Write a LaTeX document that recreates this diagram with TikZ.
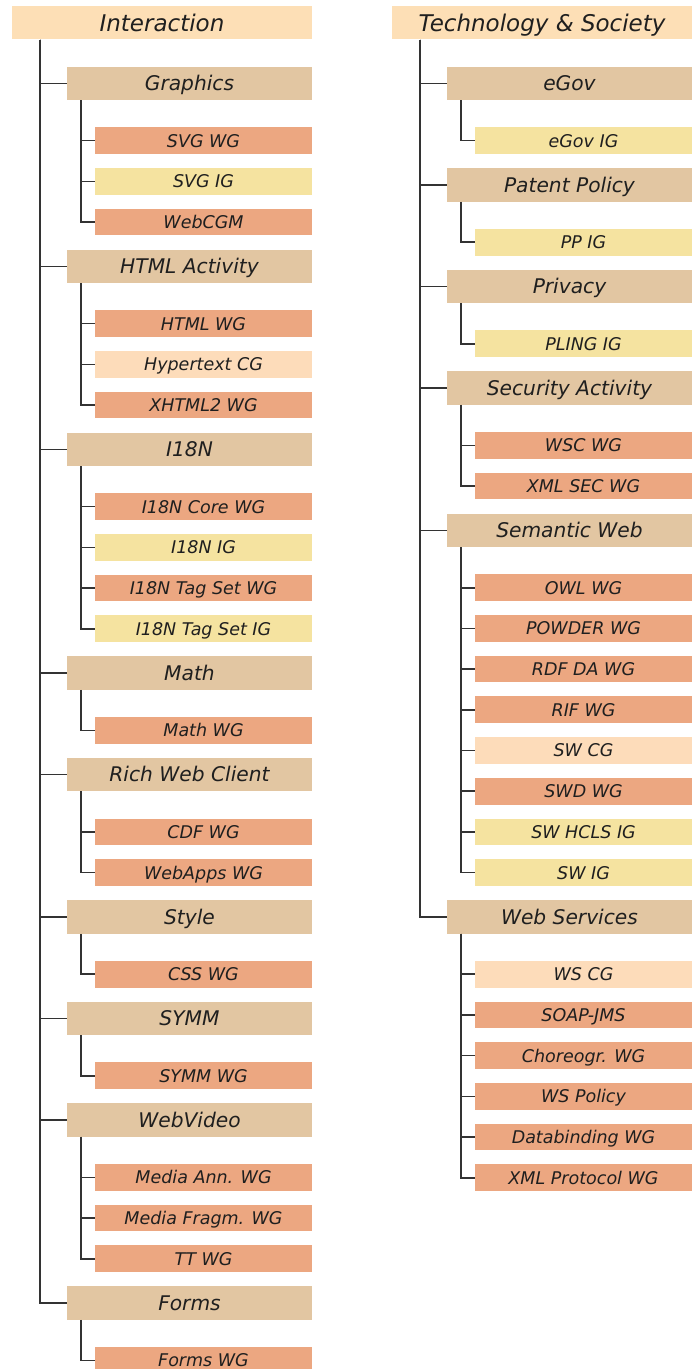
\documentclass[tikz,border=0pt]{standalone}
\usepackage{fontspec}
\setmainfont{DejaVu Sans}
\usepackage{tikz}
\usetikzlibrary{positioning}

\definecolor{headc}{HTML}{FDDFB6}
\definecolor{grpc}{HTML}{E2C6A2}
\definecolor{wgc}{HTML}{ECA781}
\definecolor{igc}{HTML}{F5E3A0}
\definecolor{cgc}{HTML}{FDDCBA}
\definecolor{linec}{HTML}{333333}

\begin{document}
\begin{tikzpicture}[node distance={40.7pt},
    head/.style={fill=headc, inner sep=0pt, minimum width=300pt, minimum height=33.3pt, text height=16.8pt, text depth=0pt, text=black!88, font=\fontsize{23}{26}\selectfont\itshape},
    grp/.style={fill=grpc, inner sep=0pt, minimum width=245pt, minimum height=33.3pt, text height=14.7pt, text depth=0pt, text=black!88, font=\fontsize{20.2}{24}\selectfont\itshape},
    wg/.style={fill=wgc, inner sep=0pt, minimum width=217pt, minimum height=26.7pt, text height=12.8pt, text depth=0pt, text=black!88, font=\fontsize{17.5}{20}\selectfont\itshape},
    ig/.style={wg, fill=igc},
    cg/.style={wg, fill=cgc},
    conn/.style={draw=linec, line width=1.6pt}]
    \fill[white] (0,0) rectangle (698pt,-1369pt);
    \useasboundingbox (0,0) rectangle (698pt,-1369pt);

    % Interaction
    \node[head] (l0) at (162pt,-22.7pt) {Interaction};

    \node[grp] (l1) [below of=l0, xshift=27.5pt, yshift=-19.9pt] {Graphics};
    \node[wg] (l2) [below of=l1, xshift=14pt, yshift=-16.6pt] {SVG WG};
    \node[ig] (l3) [below of=l2] {SVG IG};
    \node[wg] (l4) [below of=l3] {WebCGM};

    \node[grp] (l5) [below of=l4, xshift=-14pt, yshift=-3.6pt] {HTML Activity};
    \node[wg] (l6) [below of=l5, xshift=14pt, yshift=-16.6pt] {HTML WG};
    \node[cg] (l7) [below of=l6] {Hypertext CG};
    \node[wg] (l8) [below of=l7] {XHTML2 WG};

    \node[grp] (l9) [below of=l8, xshift=-14pt, yshift=-3.6pt] {I18N};
    \node[wg] (l10) [below of=l9, xshift=14pt, yshift=-16.6pt] {I18N Core WG};
    \node[ig] (l11) [below of=l10] {I18N IG};
    \node[wg] (l12) [below of=l11] {I18N Tag Set WG};
    \node[ig] (l13) [below of=l12] {I18N Tag Set IG};

    \node[grp] (l14) [below of=l13, xshift=-14pt, yshift=-3.6pt] {Math};
    \node[wg] (l15) [below of=l14, xshift=14pt, yshift=-16.6pt] {Math WG};

    \node[grp] (l16) [below of=l15, xshift=-14pt, yshift=-3.6pt] {Rich Web Client};
    \node[wg] (l17) [below of=l16, xshift=14pt, yshift=-16.6pt] {CDF WG};
    \node[wg] (l18) [below of=l17] {WebApps WG};

    \node[grp] (l19) [below of=l18, xshift=-14pt, yshift=-3.6pt] {Style};
    \node[wg] (l20) [below of=l19, xshift=14pt, yshift=-16.6pt] {CSS WG};

    \node[grp] (l21) [below of=l20, xshift=-14pt, yshift=-3.6pt] {SYMM};
    \node[wg] (l22) [below of=l21, xshift=14pt, yshift=-16.6pt] {SYMM WG};

    \node[grp] (l23) [below of=l22, xshift=-14pt, yshift=-3.6pt] {WebVideo};
    \node[wg] (l24) [below of=l23, xshift=14pt, yshift=-16.6pt] {Media Ann. WG};
    \node[wg] (l25) [below of=l24] {Media Fragm. WG};
    \node[wg] (l26) [below of=l25] {TT WG};

    \node[grp] (l27) [below of=l26, xshift=-14pt, yshift=-3.6pt] {Forms};
    \node[wg] (l28) [below of=l27, xshift=14pt, yshift=-16.6pt] {Forms WG};

    % Technology & Society
    \node[head] (r0) at (542pt,-22.7pt) {Technology \& Society};

    \node[grp] (r1) [below of=r0, xshift=27.5pt, yshift=-19.9pt] {eGov};
    \node[ig] (r2) [below of=r1, xshift=14pt, yshift=-16.6pt] {eGov IG};

    \node[grp] (r3) [below of=r2, xshift=-14pt, yshift=-3.6pt] {Patent Policy};
    \node[ig] (r4) [below of=r3, xshift=14pt, yshift=-16.6pt] {PP IG};

    \node[grp] (r5) [below of=r4, xshift=-14pt, yshift=-3.6pt] {Privacy};
    \node[ig] (r6) [below of=r5, xshift=14pt, yshift=-16.6pt] {PLING IG};

    \node[grp] (r7) [below of=r6, xshift=-14pt, yshift=-3.6pt] {Security Activity};
    \node[wg] (r8) [below of=r7, xshift=14pt, yshift=-16.6pt] {WSC WG};
    \node[wg] (r9) [below of=r8] {XML SEC WG};

    \node[grp] (r10) [below of=r9, xshift=-14pt, yshift=-3.6pt] {Semantic Web};
    \node[wg] (r11) [below of=r10, xshift=14pt, yshift=-16.6pt] {OWL WG};
    \node[wg] (r12) [below of=r11] {POWDER WG};
    \node[wg] (r13) [below of=r12] {RDF DA WG};
    \node[wg] (r14) [below of=r13] {RIF WG};
    \node[cg] (r15) [below of=r14] {SW CG};
    \node[wg] (r16) [below of=r15] {SWD WG};
    \node[ig] (r17) [below of=r16] {SW HCLS IG};
    \node[ig] (r18) [below of=r17] {SW IG};

    \node[grp] (r19) [below of=r18, xshift=-14pt, yshift=-3.6pt] {Web Services};
    \node[cg] (r20) [below of=r19, xshift=14pt, yshift=-16.6pt] {WS CG};
    \node[wg] (r21) [below of=r20] {SOAP-JMS};
    \node[wg] (r22) [below of=r21] {Choreogr. WG};
    \node[wg] (r23) [below of=r22] {WS Policy};
    \node[wg] (r24) [below of=r23] {Databinding WG};
    \node[wg] (r25) [below of=r24] {XML Protocol WG};

    % trunks
    \draw[conn] ([xshift=28pt]l0.south west) |- (l1.west);
    \draw[conn] ([xshift=28pt]l0.south west) |- (l5.west);
    \draw[conn] ([xshift=28pt]l0.south west) |- (l9.west);
    \draw[conn] ([xshift=28pt]l0.south west) |- (l14.west);
    \draw[conn] ([xshift=28pt]l0.south west) |- (l16.west);
    \draw[conn] ([xshift=28pt]l0.south west) |- (l19.west);
    \draw[conn] ([xshift=28pt]l0.south west) |- (l21.west);
    \draw[conn] ([xshift=28pt]l0.south west) |- (l23.west);
    \draw[conn] ([xshift=28pt]l0.south west) |- (l27.west);

    \draw[conn] ([xshift=28pt]r0.south west) |- (r1.west);
    \draw[conn] ([xshift=28pt]r0.south west) |- (r3.west);
    \draw[conn] ([xshift=28pt]r0.south west) |- (r5.west);
    \draw[conn] ([xshift=28pt]r0.south west) |- (r7.west);
    \draw[conn] ([xshift=28pt]r0.south west) |- (r10.west);
    \draw[conn] ([xshift=28pt]r0.south west) |- (r19.west);

    % branches
    \draw[conn] ([xshift=14pt]l1.south west) |- (l2.west);
    \draw[conn] ([xshift=14pt]l1.south west) |- (l3.west);
    \draw[conn] ([xshift=14pt]l1.south west) |- (l4.west);
    \draw[conn] ([xshift=14pt]l5.south west) |- (l6.west);
    \draw[conn] ([xshift=14pt]l5.south west) |- (l7.west);
    \draw[conn] ([xshift=14pt]l5.south west) |- (l8.west);
    \draw[conn] ([xshift=14pt]l9.south west) |- (l10.west);
    \draw[conn] ([xshift=14pt]l9.south west) |- (l11.west);
    \draw[conn] ([xshift=14pt]l9.south west) |- (l12.west);
    \draw[conn] ([xshift=14pt]l9.south west) |- (l13.west);
    \draw[conn] ([xshift=14pt]l14.south west) |- (l15.west);
    \draw[conn] ([xshift=14pt]l16.south west) |- (l17.west);
    \draw[conn] ([xshift=14pt]l16.south west) |- (l18.west);
    \draw[conn] ([xshift=14pt]l19.south west) |- (l20.west);
    \draw[conn] ([xshift=14pt]l21.south west) |- (l22.west);
    \draw[conn] ([xshift=14pt]l23.south west) |- (l24.west);
    \draw[conn] ([xshift=14pt]l23.south west) |- (l25.west);
    \draw[conn] ([xshift=14pt]l23.south west) |- (l26.west);
    \draw[conn] ([xshift=14pt]l27.south west) |- (l28.west);

    \draw[conn] ([xshift=14pt]r1.south west) |- (r2.west);
    \draw[conn] ([xshift=14pt]r3.south west) |- (r4.west);
    \draw[conn] ([xshift=14pt]r5.south west) |- (r6.west);
    \draw[conn] ([xshift=14pt]r7.south west) |- (r8.west);
    \draw[conn] ([xshift=14pt]r7.south west) |- (r9.west);
    \draw[conn] ([xshift=14pt]r10.south west) |- (r11.west);
    \draw[conn] ([xshift=14pt]r10.south west) |- (r12.west);
    \draw[conn] ([xshift=14pt]r10.south west) |- (r13.west);
    \draw[conn] ([xshift=14pt]r10.south west) |- (r14.west);
    \draw[conn] ([xshift=14pt]r10.south west) |- (r15.west);
    \draw[conn] ([xshift=14pt]r10.south west) |- (r16.west);
    \draw[conn] ([xshift=14pt]r10.south west) |- (r17.west);
    \draw[conn] ([xshift=14pt]r10.south west) |- (r18.west);
    \draw[conn] ([xshift=14pt]r19.south west) |- (r20.west);
    \draw[conn] ([xshift=14pt]r19.south west) |- (r21.west);
    \draw[conn] ([xshift=14pt]r19.south west) |- (r22.west);
    \draw[conn] ([xshift=14pt]r19.south west) |- (r23.west);
    \draw[conn] ([xshift=14pt]r19.south west) |- (r24.west);
    \draw[conn] ([xshift=14pt]r19.south west) |- (r25.west);
\end{tikzpicture}
\end{document}
